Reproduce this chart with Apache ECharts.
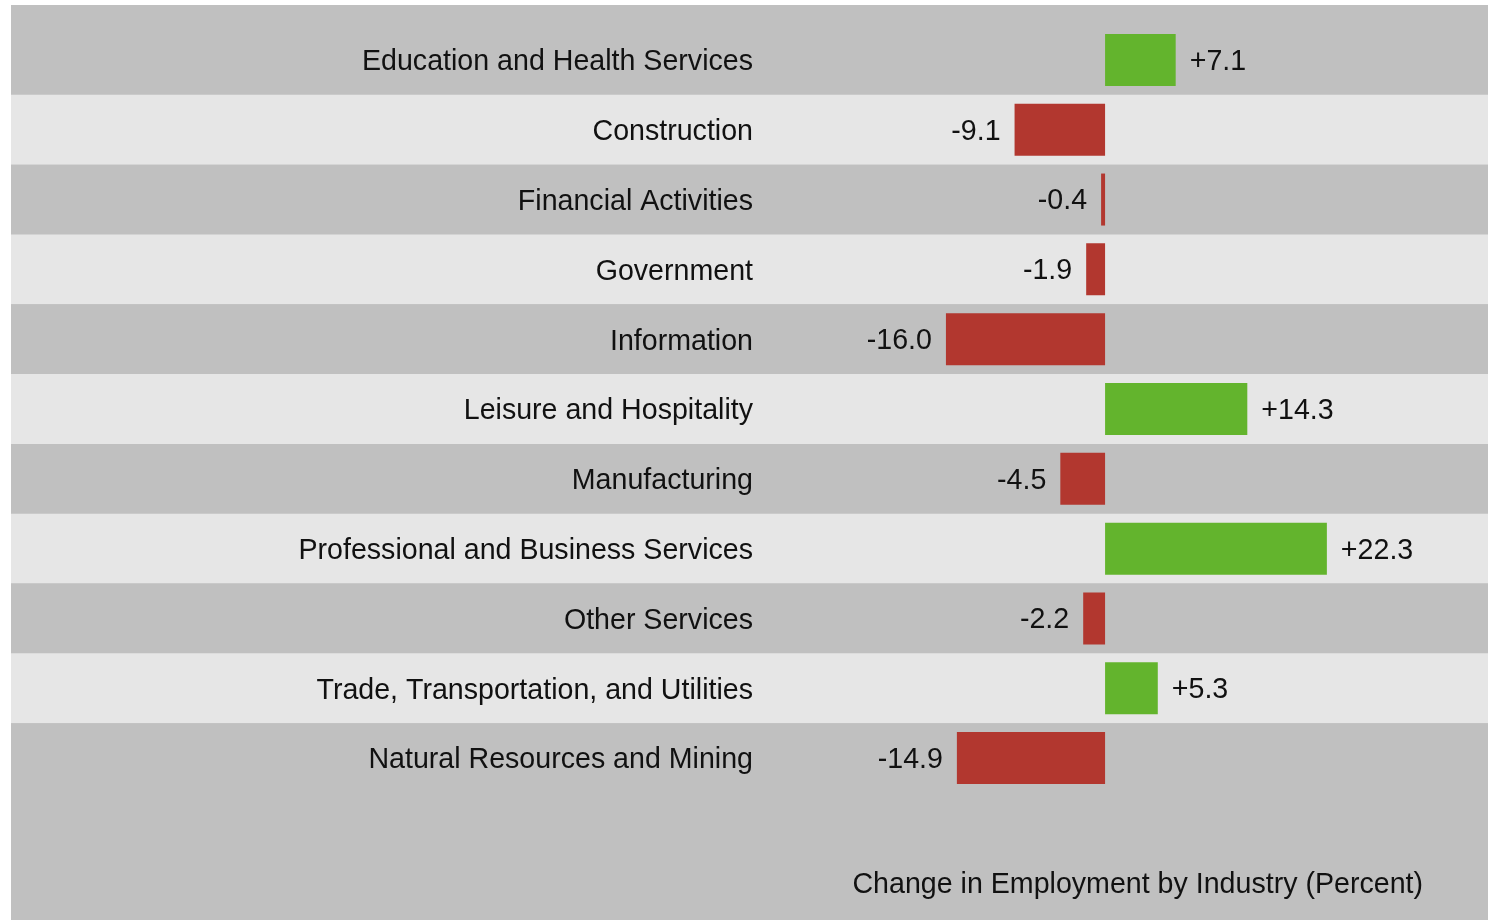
<!DOCTYPE html>
<html>
<head>
<meta charset="utf-8">
<script src="https://cdn.jsdelivr.net/npm/echarts@6/dist/echarts.min.js"></script>
<style>
  html, body { margin: 0; padding: 0; background: #ffffff; }
  #chart { width: 1488px; height: 920px; }
</style>
</head>
<body>
<div id="chart"></div>
<script>
  // 行业就业变化（百分比）
  var industries = [
    'Education and Health Services',
    'Construction',
    'Financial Activities',
    'Government',
    'Information',
    'Leisure and Hospitality',
    'Manufacturing',
    'Professional and Business Services',
    'Other Services',
    'Trade, Transportation, and Utilities',
    'Natural Resources and Mining'
  ]
  var changes = [7.1, -9.1, -0.4, -1.9, -16.0, 14.3, -4.5, 22.3, -2.2, 5.3, -14.9]

  var GREEN = '#63b42d'
  var RED = '#b2372f'
  var FONT = 'Liberation Sans, Arial, sans-serif'
  var FS = 28.6

  var chart = echarts.init(document.getElementById('chart'))
  var option = {
    animation: false,
    backgroundColor: '#ffffff',
    graphic: [{
      type: 'rect',
      z: -100,
      silent: true,
      shape: { x: 11, y: 5, width: 1477, height: 915 },
      style: { fill: '#c0c0c0' }
    }],
    title: {
      text: 'Change in Employment by Industry (Percent)',
      right: 60,
      top: 866,
      textStyle: { color: '#111', fontSize: FS, fontWeight: 'normal', fontFamily: FONT }
    },
    grid: { left: 11, right: 0, top: 25, height: 768 },
    xAxis: {
      type: 'value',
      min: -110,
      max: 38.5,
      show: false
    },
    yAxis: {
      type: 'category',
      inverse: true,
      data: industries,
      axisLine: { show: false },
      axisTick: { show: false },
      splitLine: { show: false },
      splitArea: { show: true, areaStyle: { color: ['#c0c0c0', '#e6e6e6'] } },
      axisLabel: {
        margin: -742,
        formatter: function (v) { return '{n|' + v + '}' },
        rich: {
          n: { color: '#111', fontSize: FS, fontFamily: FONT, padding: [5, 0, 0, 0] }
        }
      }
    },
    series: [{
      type: 'bar',
      barWidth: 52,
      data: changes.map(function (v) {
        return {
          value: v,
          itemStyle: { color: v >= 0 ? GREEN : RED },
          label: { position: v >= 0 ? 'right' : 'left' }
        }
      }),
      label: {
        show: true,
        distance: 14,
        offset: [0, 2],
        color: '#111',
        fontSize: FS,
        fontFamily: FONT,
        formatter: function (p) {
          return (p.value > 0 ? '+' : '') + p.value.toFixed(1)
        }
      }
    }]
  }
  chart.setOption(option)
</script>
</body>
</html>
